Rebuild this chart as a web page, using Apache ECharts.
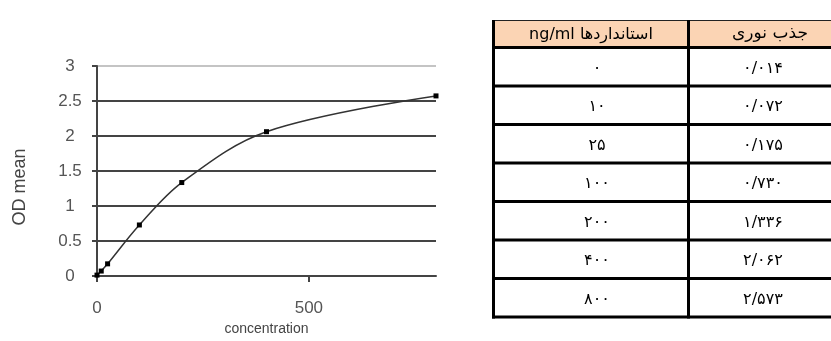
<!DOCTYPE html>
<html>
<head>
<meta charset="utf-8">
<script src="https://cdn.jsdelivr.net/npm/echarts@6/dist/echarts.min.js"></script>
<style>
html,body{margin:0;padding:0;background:#fff;}
#c{width:831px;height:341px;}
</style>
</head>
<body>
<div id="c"></div>
<script>
// ---- data ----
const concentrations = [0, 10, 25, 100, 200, 400, 800];
const odMean = [0.014, 0.072, 0.175, 0.730, 1.336, 2.062, 2.573];
const xTickValues = [0, 500];
const yTickValues = [0, 0.5, 1, 1.5, 2, 2.5, 3];
const tableHeaders = ['ng/ml استانداردها', 'جذب نوری'];
const xAxisTitle = 'concentration';
const yAxisTitle = 'OD mean';

// ---- helpers ----
const faDigits = '۰۱۲۳۴۵۶۷۸۹';
function toFa(str) {
  return String(str).replace(/[0-9]/g, d => faDigits[+d]).replace('.', '/');
}
const concLabels = concentrations.map(v => toFa(v));
const odLabels = odMean.map(v => toFa(v.toFixed(3)));

// ---- table (graphic) ----
const tLeft = 493.5, tDiv = 688.5, tRight = 845, tTop = 20, hBottom = 47.5, rowH = 38.5;
const nRows = concentrations.length;
const tBottom = hBottom + rowH * nRows;
const graphics = [];
graphics.push({type:'rect', shape:{x:tLeft, y:tTop, width:tRight - tLeft, height:hBottom - tTop}, style:{fill:'#fbd4b4'}, z:1});
graphics.push({type:'line', shape:{x1:tLeft - 1.5, y1:tTop + 0.5, x2:tRight, y2:tTop + 0.5}, style:{stroke:'#222', lineWidth:1}, z:2});
for (let i = 0; i <= nRows; i++) {
  const y = hBottom + rowH * i;
  graphics.push({type:'line', shape:{x1:tLeft - 1.5, y1:y, x2:tRight, y2:y}, style:{stroke:'#000', lineWidth:3}, z:3});
}
[tLeft, tDiv].forEach(x => {
  graphics.push({type:'line', shape:{x1:x, y1:tTop, x2:x, y2:tBottom + 1.5}, style:{stroke:'#000', lineWidth:3}, z:3});
});
const cLeft = (tLeft + tDiv) / 2, cRight = 767;
const tFont = '16px "DejaVu Sans"';
graphics.push({type:'text', x:cLeft, y:(tTop + hBottom) / 2 + 1, style:{text:tableHeaders[0], font:tFont, fill:'#000', align:'center', verticalAlign:'middle'}, z:4});
graphics.push({type:'text', x:cRight + 3, y:(tTop + hBottom) / 2, style:{text:tableHeaders[1], font:'17px "DejaVu Sans"', fill:'#000', align:'center', verticalAlign:'middle'}, z:4});
for (let i = 0; i < nRows; i++) {
  const yc = hBottom + rowH * i + rowH / 2 + 2;
  graphics.push({type:'text', x:cLeft + 6, y:yc, style:{text:concLabels[i], font:tFont, fill:'#000', align:'center', verticalAlign:'middle'}, z:4});
  graphics.push({type:'text', x:cRight - 4, y:yc, style:{text:odLabels[i], font:tFont, fill:'#000', align:'center', verticalAlign:'middle'}, z:4});
}

// ---- chart ----
const chart = echarts.init(document.getElementById('c'), null, {renderer:'canvas'});
const gridColors = yTickValues.map((v, i) => i === yTickValues.length - 1 ? '#c4c4c4' : '#444');
chart.setOption({
  animation: false,
  backgroundColor: '#fff',
  grid: {left: 97, right: 395, top: 66, bottom: 59, containLabel: false},
  xAxis: {
    type: 'value', min: 0, max: 800, interval: 500,
    name: xAxisTitle, nameLocation: 'middle', nameGap: 45,
    nameTextStyle: {fontFamily: 'Liberation Sans', fontSize: 14, color: '#444'},
    axisLine: {show: true, lineStyle: {color: '#444', width: 2}},
    axisTick: {show: true, customValues: xTickValues, length: 6, inside: false, lineStyle: {color: '#444', width: 2}},
    axisLabel: {customValues: xTickValues, margin: 24, fontFamily: 'Liberation Sans', fontSize: 17, color: '#555'},
    splitLine: {show: false}
  },
  yAxis: {
    type: 'value', min: 0, max: 3, interval: 0.5,
    name: yAxisTitle, nameLocation: 'middle', nameGap: 68, nameRotate: 90,
    nameTextStyle: {fontFamily: 'Liberation Sans', fontSize: 18, color: '#444', padding: [0, 32, 0, 0]},
    axisLine: {show: true, lineStyle: {color: '#444', width: 2}},
    axisTick: {show: true, length: 5, lineStyle: {color: '#444', width: 2}},
    axisLabel: {margin: 27, align: 'center', fontFamily: 'Liberation Sans', fontSize: 17, color: '#555'},
    splitLine: {show: true, lineStyle: {color: gridColors, width: 2}}
  },
  graphic: graphics,
  series: [{
    type: 'line',
    data: concentrations.map((c, i) => [c, odMean[i]]),
    smooth: 0.35,
    symbol: 'rect', symbolSize: 5,
    itemStyle: {color: '#000'},
    lineStyle: {color: '#333', width: 1.5},
    z: 5
  }]
});
</script>
</body>
</html>
